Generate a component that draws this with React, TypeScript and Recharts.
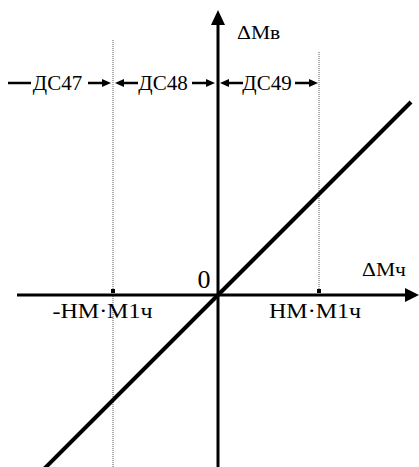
import React from 'react';
import { ComposedChart, Line, XAxis, YAxis, ReferenceLine, ReferenceDot } from 'recharts';

// Characteristic line (ΔMв = ΔMч), 45° through the origin
const lineData = [
  { x: -1.76, y: -1.76 },
  { x: 0, y: 0 },
  { x: 1.93, y: 1.93 },
];

const xDomain: [number, number] = [-2.18, 2.01];
const yDomain: [number, number] = [-1.72, 2.95];

// threshold ticks ±НМ·М1ч
const tickValues = [-1.05, 1.01];
const tickLabels = ['-НМ·М1ч', 'НМ·М1ч'];
const tickLabelX = [-1.155, 0.97];
const tickLabelY = -0.23;

// dotted boundaries
const boundaryTop = [2.55, 2.43];
const boundaryBottom = [-1.72, 0];

// zones ДС47..ДС49: left end, right end, left end is arrowhead or plain dash
const zoneNames = ['ДС47', 'ДС48', 'ДС49'];
const zoneLeft = [-2.1, -1.03, 0.02];
const zoneRight = [-1.07, -0.03, 1.0];
const zoneLeftHead = [false, true, true];
const zoneRowY = 2.12;

const axisLabels = [
  { text: 'ΔMв', x: 0.19, y: 2.56, anchor: 'start', size: 18, sx: 1.2 },
  { text: 'ΔMч', x: 1.44, y: 0.19, anchor: 'start', size: 18, sx: 1.2 },
  { text: '0', x: -0.14, y: 0.07, anchor: 'middle', size: 26, sx: 1 },
];

const FONT = 'Liberation Serif';

const zoneShape = (name: string, leftHead: boolean) => (p: any) => {
  const xa = Math.min(p.x1, p.x2);
  const xb = Math.max(p.x1, p.x2);
  const y = p.y1;
  const len = 23;
  const hl = 9;
  const hw = 4;
  const mid = (xa + xb) / 2 - 2;
  return (
    <g>
      <text x={mid} y={y + 7} textAnchor="middle" fontFamily={FONT} fontSize={21} fill="#000">
        {name}
      </text>
      <line x1={leftHead ? xa + hl - 1 : xa} y1={y} x2={xa + len} y2={y} stroke="#000" strokeWidth={2.5} />
      {leftHead && <polygon points={`${xa},${y} ${xa + hl},${y - hw} ${xa + hl},${y + hw}`} fill="#000" />}
      <line x1={xb - len} y1={y} x2={xb - hl + 1} y2={y} stroke="#000" strokeWidth={2.5} />
      <polygon points={`${xb},${y} ${xb - hl},${y - hw} ${xb - hl},${y + hw}`} fill="#000" />
    </g>
  );
};

const hArrow = (sw: number, hl: number, hw: number) => (p: any) => {
  const xa = Math.min(p.x1, p.x2);
  const xb = Math.max(p.x1, p.x2);
  const y = p.y1;
  return (
    <g>
      <line x1={xa} y1={y} x2={xb - hl + 1} y2={y} stroke="#000" strokeWidth={sw} />
      <polygon points={`${xb},${y} ${xb - hl},${y - hw} ${xb - hl},${y + hw}`} fill="#000" />
    </g>
  );
};

const vArrowUp = (sw: number, hl: number, hw: number) => (p: any) => {
  const x = p.x1;
  const top = Math.min(p.y1, p.y2);
  const bot = Math.max(p.y1, p.y2);
  return (
    <g>
      <line x1={x} y1={bot} x2={x} y2={top + hl - 1} stroke="#000" strokeWidth={sw} />
      <polygon points={`${x},${top} ${x - hw},${top + hl} ${x + hw},${top + hl}`} fill="#000" />
    </g>
  );
};

const textShape = (text: string, anchor: string, size: number, sx: number) => (p: any) => (
  <text
    x={0}
    y={0}
    transform={`translate(${p.cx},${p.cy}) scale(${sx},1)`}
    textAnchor={anchor as any}
    fontFamily={FONT}
    fontSize={size}
    fill="#000"
  >
    {text}
  </text>
);

const squareShape = (p: any) => <rect x={p.cx - 2} y={p.cy - 6} width={4} height={4} fill="#000" />;

export default function App() {
  return (
    <div style={{ position: 'absolute', left: 0, top: 0, width: 419, height: 467, background: '#fff' }}>
      <ComposedChart width={419} height={467} margin={{ top: 0, right: 0, bottom: 0, left: 0 }}>
        <XAxis type="number" dataKey="x" domain={xDomain} allowDataOverflow hide />
        <YAxis type="number" dataKey="y" domain={yDomain} allowDataOverflow hide />

        {tickValues.map((v, i) => (
          <ReferenceLine
            key={'b' + i}
            segment={[
              { x: v, y: boundaryBottom[i] },
              { x: v, y: boundaryTop[i] },
            ]}
            stroke="#555"
            strokeWidth={1}
            strokeDasharray="1 1"
            ifOverflow="visible"
          />
        ))}

        <ReferenceLine
          segment={[
            { x: -2.01, y: 0 },
            { x: 2.01, y: 0 },
          ]}
          ifOverflow="visible"
          shape={hArrow(3, 14, 7)}
        />
        <ReferenceLine
          segment={[
            { x: 0, y: -1.72 },
            { x: 0, y: 2.85 },
          ]}
          ifOverflow="visible"
          shape={vArrowUp(3, 15, 7)}
        />

        {zoneNames.map((z, i) => (
          <ReferenceLine
            key={'zone' + i}
            segment={[
              { x: zoneLeft[i], y: zoneRowY },
              { x: zoneRight[i], y: zoneRowY },
            ]}
            ifOverflow="visible"
            shape={zoneShape(z, zoneLeftHead[i])}
          />
        ))}

        <Line
          data={lineData}
          dataKey="y"
          type="linear"
          stroke="#000"
          strokeWidth={4}
          dot={false}
          activeDot={false}
          isAnimationActive={false}
        />

        {tickValues.map((v, i) => (
          <ReferenceDot key={'t' + i} x={v} y={0} ifOverflow="visible" shape={squareShape} />
        ))}
        {tickLabels.map((t, i) => (
          <ReferenceDot
            key={'tl' + i}
            x={tickLabelX[i]}
            y={tickLabelY}
            ifOverflow="visible"
            shape={textShape(t, 'middle', 20, 1.2)}
          />
        ))}
        {axisLabels.map((a, i) => (
          <ReferenceDot
            key={'al' + i}
            x={a.x}
            y={a.y}
            ifOverflow="visible"
            shape={textShape(a.text, a.anchor, a.size, a.sx)}
          />
        ))}
      </ComposedChart>
    </div>
  );
}
